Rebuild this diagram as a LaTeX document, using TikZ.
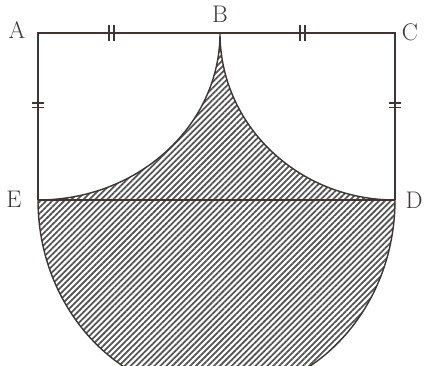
\documentclass[tikz,border=0pt]{standalone}
\usetikzlibrary{patterns.meta}
\definecolor{ink}{RGB}{62,52,52}
\definecolor{hatch}{RGB}{85,85,85}
\tikzset{
  frame/.style={draw=ink, line width=1.4pt},
  tick/.style={draw=ink, line width=1.1pt},
  hatched/.style={pattern={Lines[angle=45,distance=4.2pt,line width=1.8pt]}, pattern color=hatch},
  lbl/.style={font=\fontsize{24}{28}\selectfont, text=ink, inner sep=0pt}
}
\begin{document}
\begin{tikzpicture}[x=1pt,y=1pt]
\useasboundingbox (0,0) rectangle (432,366);
\coordinate (A) at (38,333);
\coordinate (B) at (220,333);
\coordinate (C) at (395,333);
\coordinate (E) at (38,166);
\coordinate (D) at (395,166);
% shaded regions
\begin{scope}
\clip (0,0) rectangle (432,366);
\fill[hatched] (E) arc[start angle=180, end angle=360, x radius=178.5, y radius=195] -- cycle;
\draw[frame] (E) arc[start angle=180, end angle=360, x radius=178.5, y radius=195];
\end{scope}
\fill[hatched] (E) arc[start angle=270, end angle=360, x radius=182, y radius=167]
  arc[start angle=180, end angle=270, x radius=175, y radius=167] -- cycle;
\draw[frame] (E) arc[start angle=270, end angle=360, x radius=182, y radius=167]
  arc[start angle=180, end angle=270, x radius=175, y radius=167];
% frame
\draw[frame] (E) -- (A) -- (B) -- (C) -- (D);
\draw[draw=ink, line width=2.6pt] (E) -- (D);
% ticks
\draw[tick] (109,325) -- (109,341) (114,325) -- (114,341);
\draw[tick] (300,325) -- (300,341) (305,325) -- (305,341);
\draw[tick] (32,263) -- (44,263) (32,258.5) -- (44,258.5);
\draw[tick] (389,263) -- (401,263) (389,258.5) -- (401,258.5);
% labels
\node[lbl] (lA) at (17,336) {A};
\node[lbl] (lB) at (220,352) {B};
\node[lbl] (lC) at (410,334) {C};
\node[lbl] (lE) at (14,167) {E};
\node[lbl] (lD) at (414,166) {D};
\end{tikzpicture}
\end{document}
